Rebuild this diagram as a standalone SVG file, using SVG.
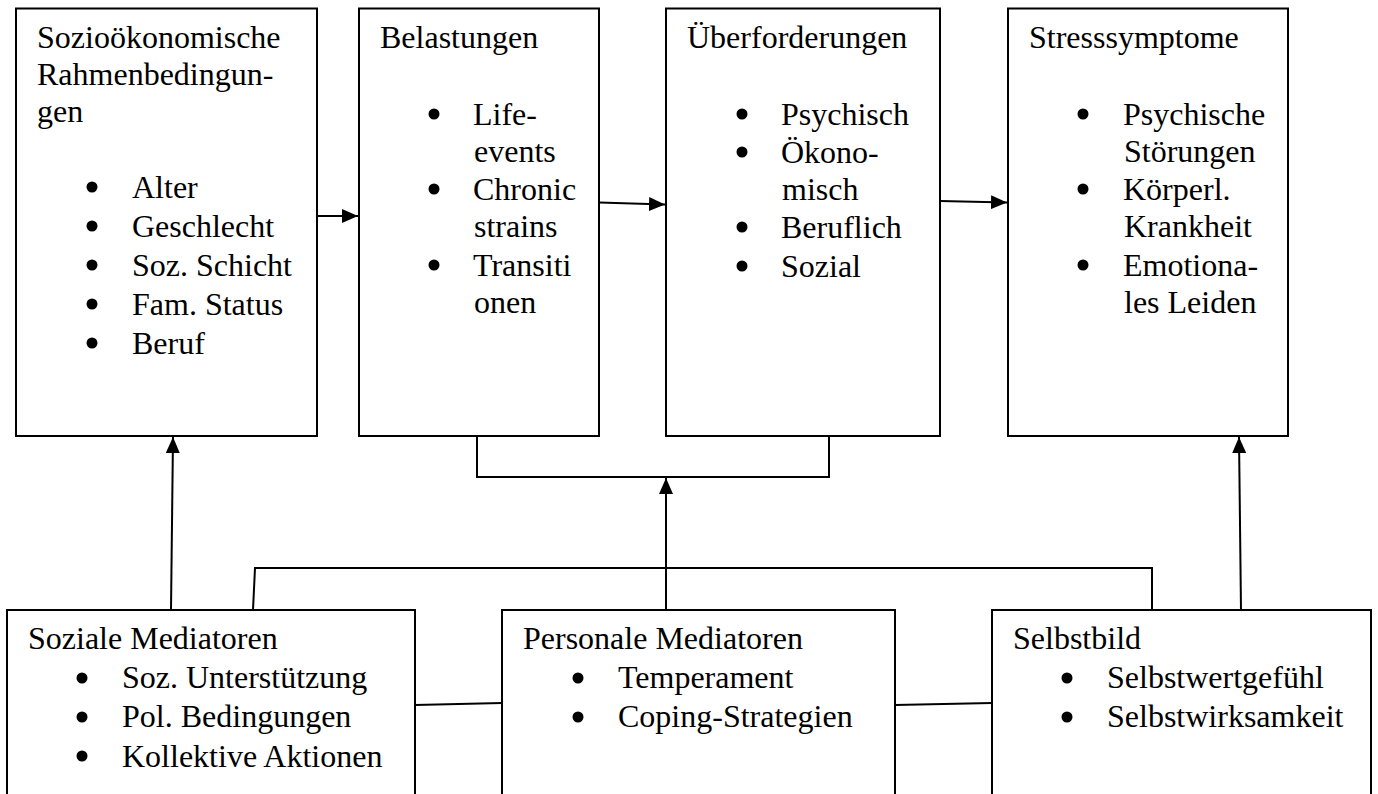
<svg xmlns="http://www.w3.org/2000/svg" width="1378" height="794" viewBox="0 0 1378 794">
<style>
.box{fill:#fff;stroke:#000;stroke-width:2}
.t{font-family:"Liberation Serif","Times New Roman",serif;font-size:32px;fill:#000}
.b{fill:#000}
.c{fill:none;stroke:#000;stroke-width:2}
</style>
<defs>
<marker id="ah" viewBox="0 0 16 14" refX="16" refY="7" markerWidth="16" markerHeight="14" markerUnits="userSpaceOnUse" orient="auto">
<path d="M0,0 L16,7 L0,14 Z" fill="#000"/>
</marker>
</defs>
<rect width="1378" height="794" fill="#fff"/>
<g id="connectors">
<line class="c" x1="317" y1="216" x2="358" y2="216" marker-end="url(#ah)"/>
<line class="c" x1="599" y1="202.5" x2="665" y2="204.5" marker-end="url(#ah)"/>
<line class="c" x1="940" y1="201" x2="1007" y2="202.5" marker-end="url(#ah)"/>
<polyline class="c" points="477,436 477,477 829,477 829,436"/>
<line class="c" x1="666" y1="610" x2="666" y2="478" marker-end="url(#ah)"/>
<line class="c" x1="171" y1="610" x2="173" y2="437" marker-end="url(#ah)"/>
<line class="c" x1="1241" y1="610" x2="1239" y2="437" marker-end="url(#ah)"/>
<polyline class="c" points="253,610 255,568 1152,568 1152,610"/>
<line class="c" x1="415" y1="705" x2="502" y2="703"/>
<line class="c" x1="895" y1="705" x2="992" y2="703"/>
</g>
<g id="sozio">
<rect class="box" x="16" y="8.5" width="301" height="427.5"/>
<text class="t" x="37" y="48">Sozioökonomische</text>
<text class="t" x="37" y="85">Rahmenbedingun-</text>
<text class="t" x="37" y="122">gen</text>
<circle class="b" cx="92" cy="187" r="5.5"/>
<text class="t" x="132" y="198">Alter</text>
<circle class="b" cx="92" cy="226" r="5.5"/>
<text class="t" x="132" y="237">Geschlecht</text>
<circle class="b" cx="92" cy="265" r="5.5"/>
<text class="t" x="132" y="276">Soz. Schicht</text>
<circle class="b" cx="92" cy="304" r="5.5"/>
<text class="t" x="132" y="315">Fam. Status</text>
<circle class="b" cx="92" cy="343" r="5.5"/>
<text class="t" x="132" y="354">Beruf</text>
</g>
<g id="belastungen">
<rect class="box" x="359" y="8.5" width="240" height="427.5"/>
<text class="t" x="380" y="48">Belastungen</text>
<circle class="b" cx="434" cy="114" r="5.5"/>
<text class="t" x="473" y="125">Life-</text>
<text class="t" x="474" y="162">events</text>
<circle class="b" cx="434" cy="189" r="5.5"/>
<text class="t" x="473" y="200">Chronic</text>
<text class="t" x="474" y="237">strains</text>
<circle class="b" cx="434" cy="265" r="5.5"/>
<text class="t" x="473" y="276">Transiti</text>
<text class="t" x="474" y="313">onen</text>
</g>
<g id="ueberforderungen">
<rect class="box" x="666" y="8.5" width="274" height="427.5"/>
<text class="t" x="687" y="48">Überforderungen</text>
<circle class="b" cx="742" cy="114" r="5.5"/>
<text class="t" x="781" y="125">Psychisch</text>
<circle class="b" cx="742" cy="152" r="5.5"/>
<text class="t" x="781" y="163">Ökono-</text>
<text class="t" x="782" y="200">misch</text>
<circle class="b" cx="742" cy="227" r="5.5"/>
<text class="t" x="781" y="238">Beruflich</text>
<circle class="b" cx="742" cy="266" r="5.5"/>
<text class="t" x="781" y="277">Sozial</text>
</g>
<g id="stresssymptome">
<rect class="box" x="1008" y="8.5" width="280" height="427.5"/>
<text class="t" x="1029" y="48">Stresssymptome</text>
<circle class="b" cx="1083" cy="114" r="5.5"/>
<text class="t" x="1123" y="125">Psychische</text>
<text class="t" x="1124" y="162">Störungen</text>
<circle class="b" cx="1083" cy="189" r="5.5"/>
<text class="t" x="1123" y="200">Körperl.</text>
<text class="t" x="1124" y="237">Krankheit</text>
<circle class="b" cx="1083" cy="265" r="5.5"/>
<text class="t" x="1123" y="276">Emotiona-</text>
<text class="t" x="1124" y="313">les Leiden</text>
</g>
<g id="soziale">
<rect class="box" x="7" y="610" width="408" height="200"/>
<text class="t" x="28" y="649">Soziale Mediatoren</text>
<circle class="b" cx="82" cy="678" r="5.5"/>
<text class="t" x="122" y="688">Soz. Unterstützung</text>
<circle class="b" cx="82" cy="717" r="5.5"/>
<text class="t" x="122" y="727">Pol. Bedingungen</text>
<circle class="b" cx="82" cy="756" r="5.5"/>
<text class="t" x="122" y="767">Kollektive Aktionen</text>
</g>
<g id="personale">
<rect class="box" x="502" y="610" width="393" height="200"/>
<text class="t" x="523" y="649">Personale Mediatoren</text>
<circle class="b" cx="578" cy="678" r="5.5"/>
<text class="t" x="618" y="688">Temperament</text>
<circle class="b" cx="578" cy="717" r="5.5"/>
<text class="t" x="618" y="727">Coping-Strategien</text>
</g>
<g id="selbstbild">
<rect class="box" x="992" y="610" width="379" height="200"/>
<text class="t" x="1013" y="649">Selbstbild</text>
<circle class="b" cx="1067" cy="678" r="5.5"/>
<text class="t" x="1107" y="688">Selbstwertgefühl</text>
<circle class="b" cx="1067" cy="717" r="5.5"/>
<text class="t" x="1107" y="727">Selbstwirksamkeit</text>
</g>
</svg>
